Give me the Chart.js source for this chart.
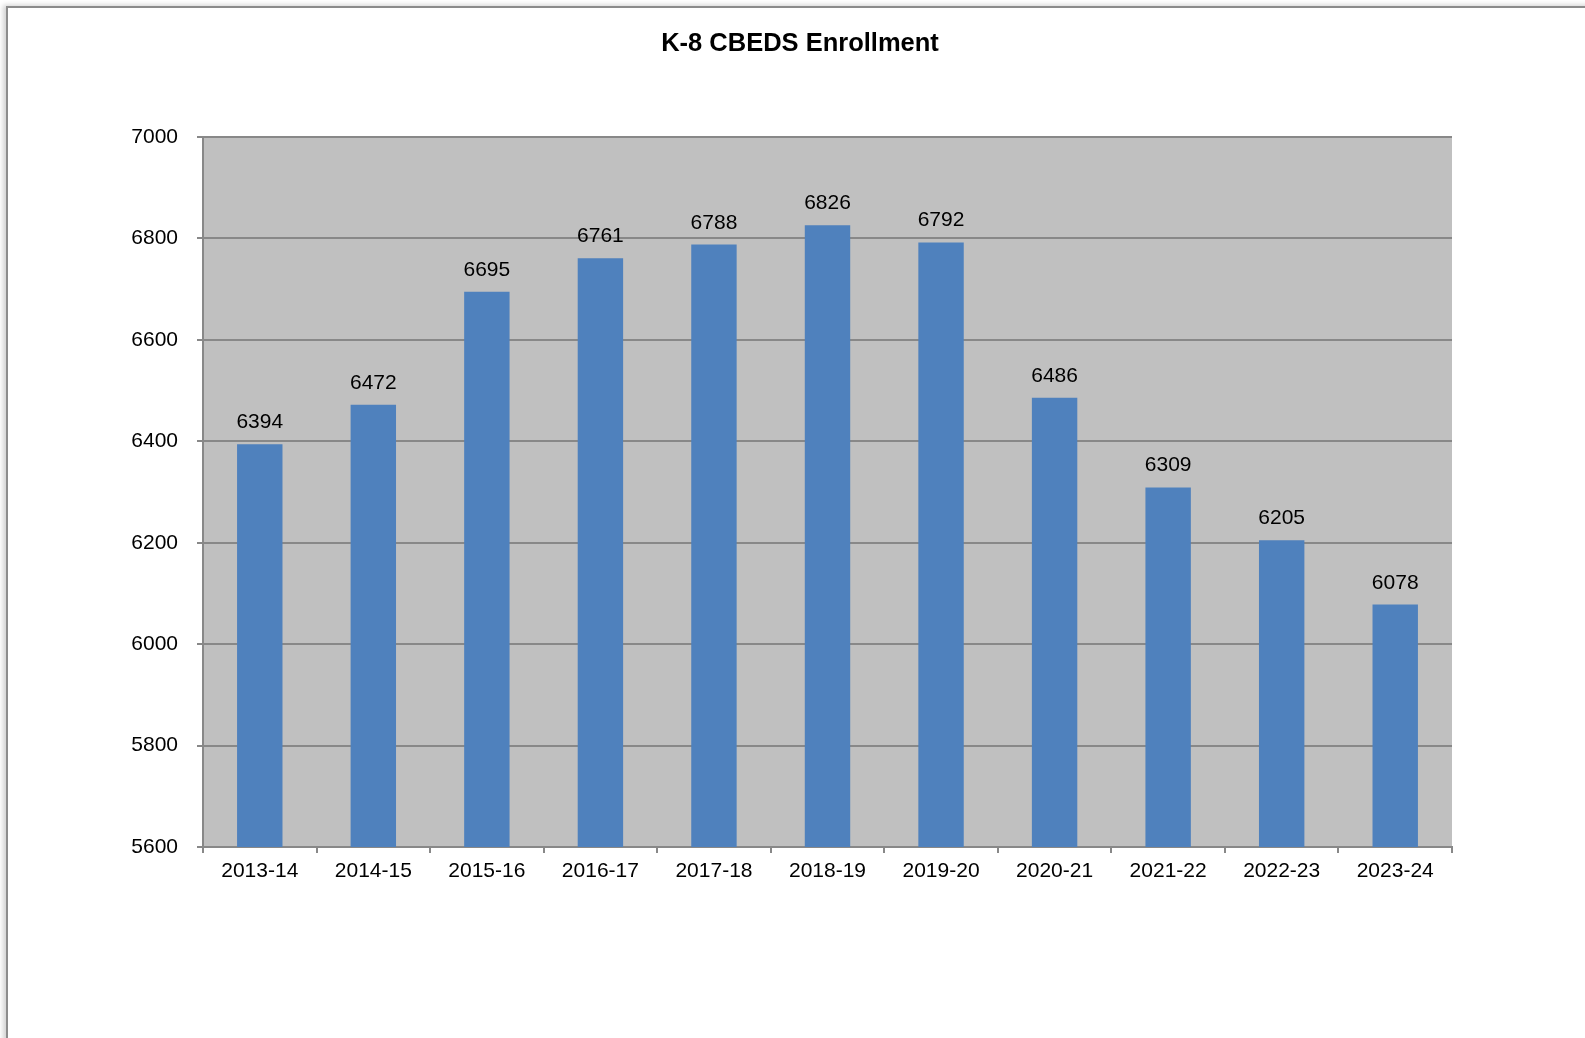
<!DOCTYPE html>
<html>
<head>
<meta charset="utf-8">
<script src="https://cdn.jsdelivr.net/npm/chart.js@4/dist/chart.umd.min.js"></script>
<style>
  html, body { margin: 0; padding: 0; background: #fff; }
  body { width: 1585px; height: 1038px; position: relative; overflow: hidden; }
  .frame {
    position: absolute; left: 6px; top: 6px; width: 1600px; height: 1100px;
    border-left: 2px solid #8c8c8c; border-top: 2px solid #8c8c8c;
    box-shadow: -3px -1px 5px rgba(0,0,0,0.18);
  }
  #chart { position: absolute; left: 0; top: 0; }
</style>
</head>
<body>
<div class="frame"></div>
<canvas id="chart" width="1585" height="1038"></canvas>
<script>
// datos del gráfico
const chartTitle = 'K-8 CBEDS Enrollment';
const years = ['2013-14', '2014-15', '2015-16', '2016-17', '2017-18', '2018-19', '2019-20', '2020-21', '2021-22', '2022-23', '2023-24'];
const enrollment = [6394, 6472, 6695, 6761, 6788, 6826, 6792, 6486, 6309, 6205, 6078];
const yMin = 5600;
const yMax = 7000;
const yStep = 200;

const FONT = '"Liberation Sans", Arial, sans-serif';
const GRID = '#888888';

// fondo gris del área de trazado + título centrado en la página
const plotBg = {
  id: 'plotBg',
  beforeDraw(chart) {
    const { ctx, chartArea: a } = chart;
    ctx.save();
    ctx.fillStyle = '#c0c0c0';
    ctx.fillRect(a.left, a.top, a.right - a.left, a.bottom - a.top);
    ctx.fillStyle = '#000';
    ctx.font = 'bold 25.5px ' + FONT;
    ctx.textAlign = 'center';
    ctx.textBaseline = 'middle';
    ctx.fillText(chartTitle, 800, 44);
    ctx.restore();
  }
};

// etiquetas de valores encima de cada barra
const valueLabels = {
  id: 'valueLabels',
  afterDatasetsDraw(chart) {
    const { ctx } = chart;
    const meta = chart.getDatasetMeta(0);
    ctx.save();
    ctx.font = '21px ' + FONT;
    ctx.fillStyle = '#000';
    ctx.textAlign = 'center';
    ctx.textBaseline = 'alphabetic';
    meta.data.forEach((bar, i) => {
      ctx.fillText(String(enrollment[i]), bar.x, bar.y - 16);
    });
    ctx.restore();
  }
};

new Chart(document.getElementById('chart'), {
  type: 'bar',
  data: {
    labels: years,
    datasets: [{
      data: enrollment,
      backgroundColor: '#4f81bd',
      borderWidth: 0,
      barPercentage: 0.4,
      categoryPercentage: 1.0
    }]
  },
  options: {
    responsive: false,
    animation: false,
    devicePixelRatio: 1,
    layout: { padding: { left: 0, right: 133, top: 137, bottom: 0 } },
    plugins: {
      legend: { display: false },
      tooltip: { enabled: false },
      title: { display: false }
    },
    scales: {
      x: {
        grid: {
          offset: true,
          drawOnChartArea: false,
          drawTicks: true,
          tickLength: 6,
          color: GRID,
          lineWidth: 2
        },
        border: { display: true, color: GRID, width: 2 },
        ticks: {
          color: '#000',
          font: { family: FONT, size: 21 },
          padding: 6,
          maxRotation: 0
        },
        afterFit(scale) { scale.height = 191; }
      },
      y: {
        min: yMin,
        max: yMax,
        ticks: {
          stepSize: yStep,
          color: '#000',
          font: { family: FONT, size: 21 },
          padding: 19,
          callback: v => String(v)
        },
        grid: {
          color: GRID,
          lineWidth: 2,
          drawTicks: true,
          tickLength: 6
        },
        border: { display: true, color: GRID, width: 2 },
        afterFit(scale) { scale.width = 203; }
      }
    }
  },
  plugins: [plotBg, valueLabels]
});
</script>
</body>
</html>
